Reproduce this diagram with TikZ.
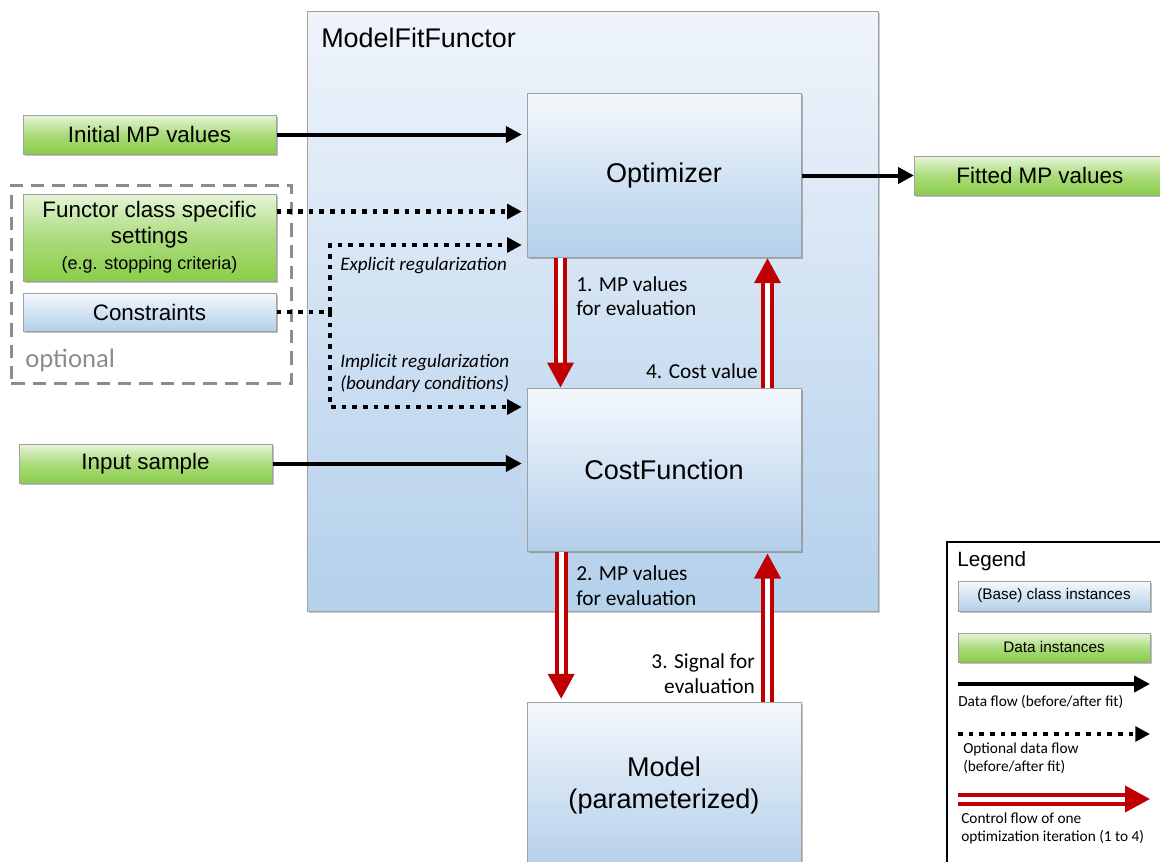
\documentclass[tikz,border=0pt]{standalone}
\usepackage{fontspec}
\setmainfont{Liberation Sans}
\newfontfamily\calib{Carlito}
\usetikzlibrary{arrows.meta,shadows,calc}
\definecolor{gtop}{HTML}{E6F5D8}
\definecolor{gmid}{HTML}{ABDB7C}
\definecolor{gbot}{HTML}{8ACD48}
\definecolor{btop}{HTML}{F4F8FC}
\definecolor{bbot}{HTML}{B3CFEA}
\definecolor{otop}{HTML}{EFF4FB}
\definecolor{obot}{HTML}{B4D0EB}
\definecolor{boxborder}{HTML}{A0A0A0}
\definecolor{ctrlred}{HTML}{C00000}
\definecolor{optgray}{HTML}{8C8C8C}
\tikzset{
  box/.style={draw=boxborder, line width=0.75pt, inner sep=0pt, align=center,
    drop shadow={shadow xshift=1.2pt, shadow yshift=-1.2pt, opacity=0.25, fill=black}},
  bluebox/.style={box, top color=btop, bottom color=bbot},
  greenbox/.style={box, top color=gtop, bottom color=gbot, middle color=gmid},
  bigtxt/.style={font=\fontsize{20.3}{24}\selectfont},
  datatxt/.style={font=\fontsize{16.8}{21}\selectfont},
  dataflow/.style={line width=3pt, -{Triangle[length=12pt,width=12pt]}},
  optflow/.style={line width=3.5pt, dash pattern=on 3.5pt off 4.5pt, -{Triangle[length=11pt,width=11pt]}},
  ctrl/.style={draw=ctrlred, line width=3pt, double=white, double distance=3.75pt,
    -{Triangle[length=18.75pt,width=19.5pt]}},
  lbl/.style={font=\calib\fontsize{16}{18.5}\selectfont, inner sep=0pt},
  itlbl/.style={font=\calib\itshape\fontsize{14.3}{16.5}\selectfont, inner sep=0pt, align=left},
  leglbl/.style={font=\calib\fontsize{11.5}{13.5}\selectfont, inner sep=0pt, align=left},
}
\begin{document}
\begin{tikzpicture}[x=0.75pt,y=-0.75pt]
\useasboundingbox (0,0) rectangle (1160,861);
\clip (0,0) rectangle (1160,861);

% outer functor box
\node[draw=boxborder, line width=0.75pt, top color=otop, bottom color=obot,
  minimum width=428.25pt, minimum height=450pt, inner sep=0pt,
  drop shadow={shadow xshift=1.2pt, shadow yshift=-1.2pt, opacity=0.2, fill=black}] (mff) at (592.5,311) {};
\node[anchor=west, inner sep=0pt, font=\fontsize{20.2}{24}\selectfont] (title) at (321,38) {ModelFitFunctor};

% optional dashed group
\node[draw=optgray, line width=2pt, dash pattern=on 10pt off 6pt, minimum width=210pt, minimum height=148.5pt,
  anchor=north west, inner sep=0pt] (optbox) at (10,184) {};
\node[anchor=west, inner sep=0pt, text=optgray, font=\calib\fontsize{20}{24}\selectfont] (opttxt) at (25,360) {optional};

% class boxes
\node[bluebox, bigtxt, minimum width=205.5pt, minimum height=123pt] (opt) at (664,175) {\raisebox{-2pt}{Optimizer}};
\node[bluebox, bigtxt, minimum width=205.5pt, minimum height=122.25pt] (cost) at (664,469.5) {\raisebox{-2pt}{CostFunction}};
\node[bluebox, bigtxt, minimum width=205.5pt, minimum height=124.5pt] (model) at (664,785) {Model\\(parameterized)};

% data boxes
\node[greenbox, datatxt, minimum width=189.75pt, minimum height=29.25pt] (init) at (149.5,134.5) {Initial MP values};
\node[greenbox, datatxt, minimum width=189.75pt, minimum height=65.25pt] (func) at (149.5,237.5)
  {\raisebox{-2pt}{Functor class specific}\\settings\\[-1pt]{\fontsize{13.5}{16}\selectfont (e.g. stopping criteria)}};
\node[bluebox, datatxt, minimum width=189.75pt, minimum height=28.5pt] (cons) at (149.5,312) {Constraints};
\node[greenbox, datatxt, minimum width=189.75pt, minimum height=29.25pt] (input) at (145.5,463.5) {Input sample};
\node[greenbox, datatxt, minimum width=192pt, minimum height=29.25pt, anchor=west] (fitted) at (914,175.5) {\hspace*{-4pt}Fitted MP values};

% data flow arrows
\draw[dataflow, shorten >=3.5pt] (init.east) -- (init.east -| opt.west);
\draw[dataflow, shorten >=3.5pt] (input.east) -- (input.east -| cost.west);
\draw[dataflow] (opt.east |- fitted.west) -- (fitted.west);

% optional flows
\coordinate (fs) at ([yshift=-13.5pt]func.north east);
\draw[optflow, shorten >=3.5pt] (fs) -- (fs -| opt.west);
\coordinate (j) at (330,312);
\coordinate (ej) at (330,245);
\coordinate (ij) at (330,407);
\draw[optflow, -] (cons.east) -- (j);
\draw[optflow, shorten >=3.5pt] (j) -- (ej) -- (ej -| opt.west);
\draw[optflow, shorten >=3.5pt] (j) -- (ij) -- (ij -| cost.west);
\node[itlbl, anchor=west] (expl) at (340,266) {Explicit regularization};
\node[itlbl, anchor=west] (impl) at (340,373) {Implicit regularization\\(boundary conditions)};

% control flow
\draw[ctrl] ([xshift=25.5pt]opt.south west) -- ([xshift=25.5pt]cost.north west);
\draw[ctrl, shorten >=0.5pt] ([xshift=-25.5pt]cost.north east) -- ([xshift=-25.5pt]opt.south east);
\draw[ctrl, shorten >=2pt] ([xshift=26pt]cost.south west) -- ([xshift=26pt]model.north west);
\draw[ctrl, shorten >=1.5pt] ([xshift=-25.5pt]model.north east) -- ([xshift=-25.5pt]cost.south east);

\node[lbl, anchor=west, align=left] (l1) at (576,296) {1. MP values\\for evaluation};
\node[lbl, anchor=east] (l4) at (758,371) {4. Cost value};
\node[lbl, anchor=west, align=left] (l2) at (576,585.5) {2. MP values\\for evaluation};
\node[lbl, anchor=east, align=right] (l3) at (755,673.5) {3. Signal for\\evaluation};

% legend
\node[draw=black, line width=1.5pt, minimum width=187.5pt, minimum height=255pt, anchor=north west, inner sep=0pt] (legend) at (946,541) {};
\node[anchor=west, inner sep=0pt, font=\fontsize{15.5}{18}\selectfont] (legtitle) at (957,561) {Legend};
\node[bluebox, font=\fontsize{11.5}{14}\selectfont, minimum width=144pt, minimum height=22.5pt] (lblue) at (1054,596) {(Base) class instances};
\node[greenbox, font=\fontsize{11.5}{14}\selectfont, minimum width=144pt, minimum height=21.75pt] (lgreen) at (1054,647.5) {Data instances};
\coordinate (la1) at (958,684);
\coordinate (la2) at (1150,684);
\draw[dataflow] (la1) -- (la2);
\node[leglbl, anchor=west] (ldata) at (958,702) {Data flow (before/after fit)};
\coordinate (lb1) at (958,734);
\coordinate (lb2) at (1150,734);
\draw[optflow] (lb1) -- (lb2);
\node[leglbl, anchor=west] (lopt) at (963,758) {Optional data flow\\(before/after fit)};
\coordinate (lc1) at (958,799);
\coordinate (lc2) at (1150,799);
\draw[ctrl] (lc1) -- (lc2);
\node[leglbl, anchor=west] (lctrl) at (961,828.5) {Control flow of one\\optimization iteration (1 to 4)};
\end{tikzpicture}
\end{document}
